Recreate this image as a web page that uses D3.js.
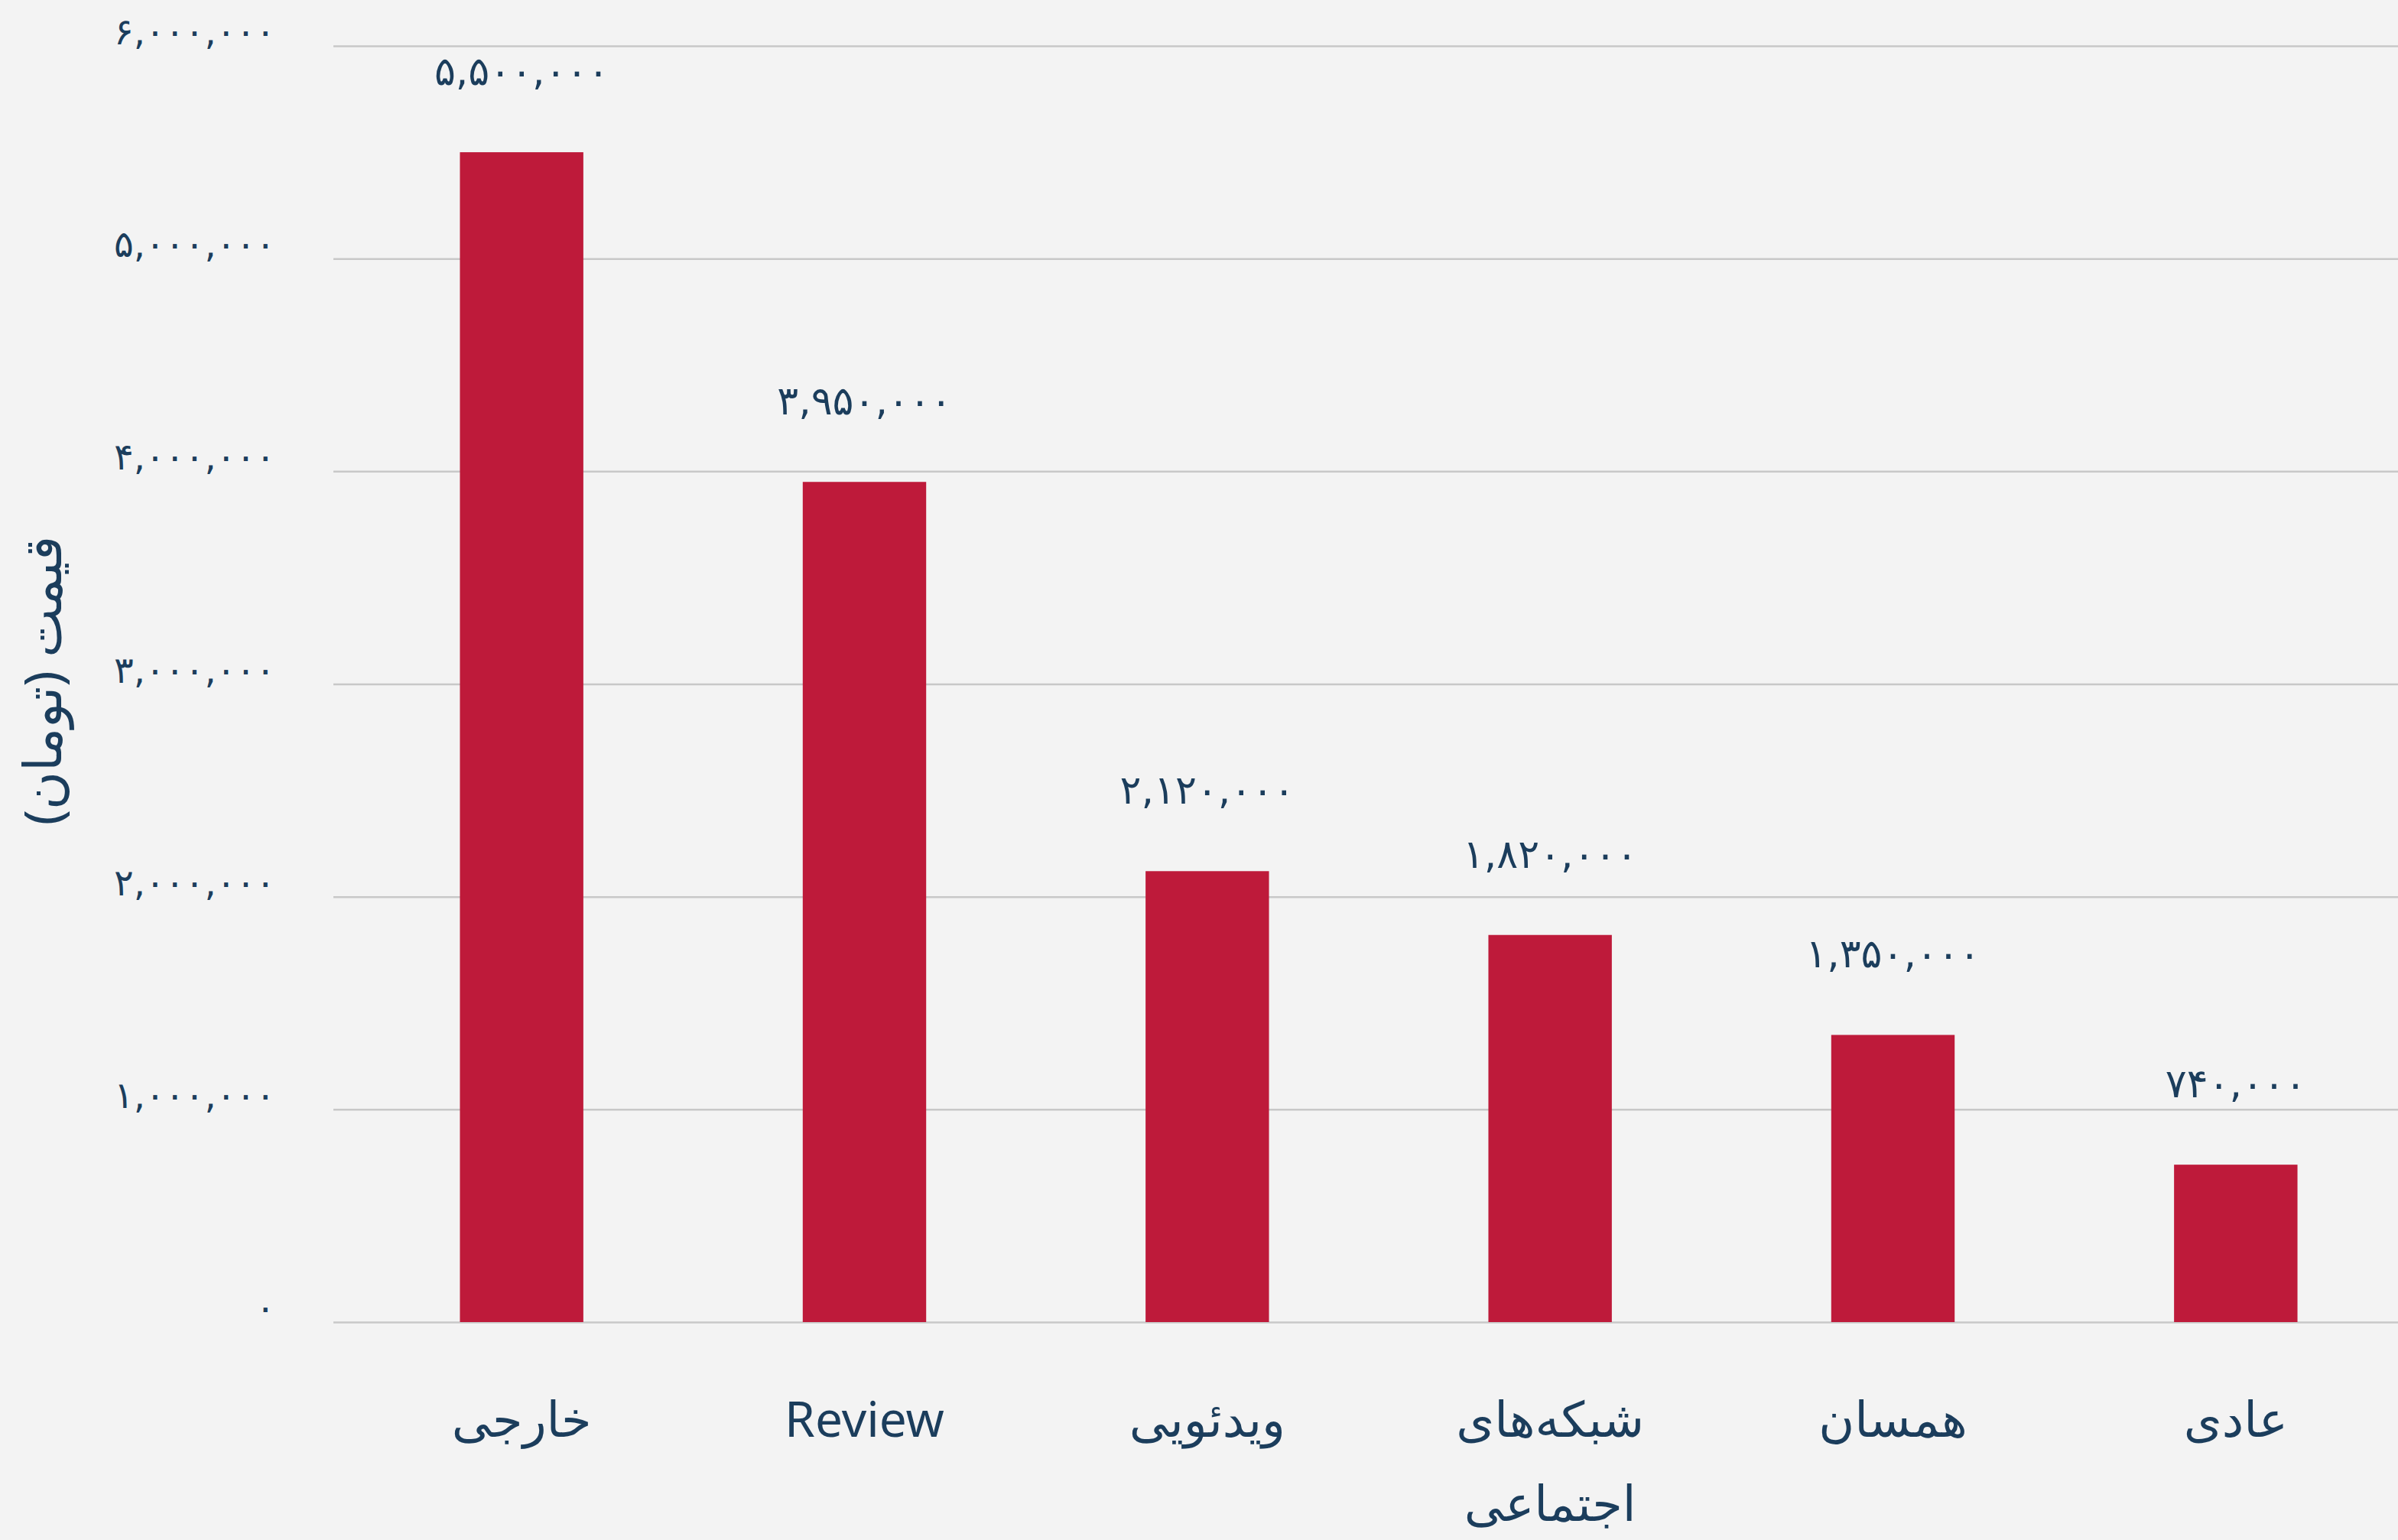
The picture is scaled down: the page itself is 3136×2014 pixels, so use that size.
<!DOCTYPE html>
<html>
<head>
<meta charset="utf-8">
<script src="https://cdn.jsdelivr.net/npm/d3@7"></script>
<style>
  html, body { margin: 0; padding: 0; background: #f3f3f3; }
  text { font-family: "Noto Sans", "DejaVu Sans", sans-serif; fill: #1b3d5c; }
</style>
</head>
<body>
<div id="chart"></div>
<script>
// data
var categories = ["خارجی", "Review", "ویدئویی", "شبکه‌های اجتماعی", "همسان", "عادی"];
var catLines = [["خارجی"], ["Review"], ["ویدئویی"], ["شبکه‌های", "اجتماعی"], ["همسان"], ["عادی"]];
var prices = [5500000, 3950000, 2120000, 1820000, 1350000, 740000];
var yTicks = [0, 1000000, 2000000, 3000000, 4000000, 5000000, 6000000];
var yTitle = "قیمت (تومان)";

var width = 3136, height = 2014;
var gridLeft = 436;

function fa(v) {
    return d3.format(",")(v).replace(/\d/g, c => "۰۱۲۳۴۵۶۷۸۹"[+c]);
}

let svg = d3.select("#chart")
    .append("svg")
    .attr("width", width)
    .attr("height", height);

svg.append("rect")
    .attr("width", width)
    .attr("height", height)
    .attr("fill", "#f3f3f3");

let xScale = d3.scaleBand()
    .domain(categories)
    .range([458, 3148])
    .paddingInner(0.64)
    .paddingOuter(0.32);

let yScale = d3.scaleLinear()
    .domain([0, 6000000])
    .range([1729, 60]);

let yAxis = d3.axisLeft(yScale)
    .tickValues(yTicks)
    .tickSize(-(width - gridLeft))
    .tickPadding(76)
    .tickFormat(fa);

let gy = svg.append("g")
    .attr("transform", "translate(" + gridLeft + ",0)")
    .call(yAxis);
gy.select(".domain").remove();
gy.selectAll(".tick line")
    .attr("stroke", "#c8c8c8")
    .attr("stroke-width", 2.5);
gy.selectAll(".tick text")
    .attr("font-size", 48)
    .attr("dy", "-0.05em")
    .style("font-family", "\"DejaVu Sans\", sans-serif")
    .attr("fill", "#1b3d5c");

// bars
svg.selectAll("rect.bar")
    .data(prices)
    .enter()
    .append("rect")
    .attr("class", "bar")
    .attr("x", (d, i) => xScale(categories[i]))
    .attr("y", d => yScale(d))
    .attr("width", xScale.bandwidth())
    .attr("height", d => yScale(0) - yScale(d))
    .attr("fill", "#be1a3a");

// value labels
svg.selectAll("text.val")
    .data(prices)
    .enter()
    .append("text")
    .attr("class", "val")
    .attr("x", (d, i) => xScale(categories[i]) + xScale.bandwidth() / 2)
    .attr("y", d => yScale(d) - 102)
    .attr("text-anchor", "middle")
    .attr("dominant-baseline", "middle")
    .attr("font-size", 52)
    .style("font-family", "\"DejaVu Sans\", sans-serif")
    .text(fa);

// category labels
let cat = svg.selectAll("text.cat")
    .data(catLines)
    .enter()
    .append("text")
    .attr("class", "cat")
    .attr("text-anchor", "middle")
    .attr("font-size", 64)
    .attr("direction", (d, i) => i == 1 ? "ltr" : "rtl");

cat.each(function(lines, i) {
    let cx = xScale(categories[i]) + xScale.bandwidth() / 2;
    lines.forEach((l, j) => {
        d3.select(this).append("tspan")
            .attr("x", cx)
            .attr("y", 1862 + j * 110)
            .attr("dominant-baseline", "middle")
            .text(l);
    });
});

// y axis title
svg.append("text")
    .attr("transform", "translate(62,890) rotate(-90)")
    .attr("text-anchor", "middle")
    .attr("dominant-baseline", "middle")
    .attr("direction", "rtl")
    .attr("font-size", 68)
    .text(yTitle);
</script>
</body>
</html>
